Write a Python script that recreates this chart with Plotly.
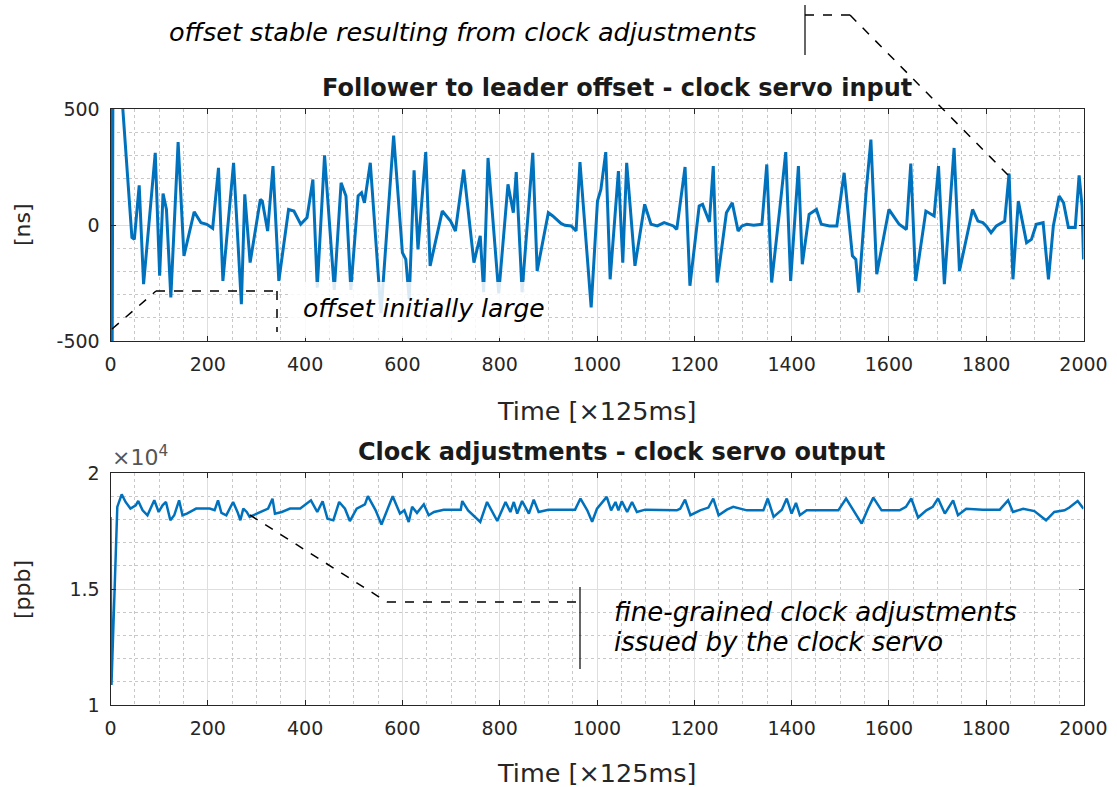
import plotly.graph_objects as go

W, H = 1117, 787

# ---------------- data ----------------
offset_t = [
    0, 3, 6, 25, 44, 49, 59, 68, 92, 101, 108,
    115, 124, 139, 151, 172, 186, 198, 210, 222, 231,
    253, 269, 276, 287, 308, 312, 323, 334, 346, 366,
    377, 391, 404, 416, 425, 440, 460, 474, 484, 494,
    509, 516, 522, 534, 556, 582, 600, 607, 614, 624,
    632, 648, 657, 682, 699, 709, 726, 747, 760, 767,
    776, 798, 817, 828, 834, 846, 868, 877, 900, 909,
    926, 934, 947, 957, 965, 988, 1001, 1008, 1018, 1027,
    1044, 1053, 1061, 1078, 1098, 1111, 1124, 1138, 1157, 1164,
    1181, 1191, 1210, 1217, 1231, 1239, 1247, 1266, 1278, 1290,
    1298, 1308, 1322, 1339, 1349, 1359, 1376, 1388, 1398, 1414,
    1422, 1436, 1451, 1461, 1478, 1493, 1508, 1525, 1532, 1538,
    1553, 1563, 1575, 1600, 1607, 1621, 1636, 1645, 1655, 1676,
    1693, 1702, 1714, 1734, 1745, 1772, 1783, 1793, 1800, 1810,
    1821, 1838, 1847, 1855, 1866, 1883, 1893, 1903, 1917, 1928,
    1938, 1950, 1959, 1969, 1983, 1991, 1997, 2000,
]
offset_ns = [
    1200, -900, 1400, 510, -54, -62, 171, -255, 311, -219, 136,
    67, -312, 357, -133, 57, 10, 3, -14, 246, -241,
    268, -341, 132, -162, 110, 103, -26, 254, -241, 67,
    60, 3, 32, 196, -270, 300, -280, 182, 125, -280,
    125, 139, 96, 268, -380, 385, -119, -148, -320, 236,
    -105, 314, -176, 60, 17, -26, 239, -162, -47, -290,
    289, -295, 175, 53, 228, -290, 311, -198, 53, 39,
    7, -1, -4, -26, 271, -355, 103, 153, 314, -234,
    232, -162, 268, -176, 89, 3, -4, 10, -4, -19,
    250, -262, 82, 89, 13, 254, -248, 53, 96, -26,
    -4, 3, -1, 3, 261, -248, 75, 314, -241, 254,
    -169, 46, 67, 3, -4, -4, 225, -133, -148, -291,
    139, 368, -212, 67, 46, 3, -19, 265, -241, 60,
    39, 254, -255, 332, -198, 67, 17, 10, -4, -33,
    -4, 17, 222, -234, 103, -76, -62, 3, 10, -234,
    -4, 125, 96, -11, -11, 214, 82, -148,
]

adj_t = [
    0, 2, 14, 23, 31, 41, 52, 57, 66, 76,
    90, 99, 107, 114, 123, 131, 141, 148, 157, 176,
    204, 214, 221, 228, 238, 252, 261, 267, 273, 280,
    286, 307, 324, 333, 338, 352, 369, 390, 412, 425,
    436, 446, 458, 470, 482, 492, 506, 523, 529, 545,
    557, 580, 595, 604, 613, 620, 630, 644, 654, 665,
    685, 720, 723, 735, 760, 774, 795, 812, 822, 829,
    836, 846, 860, 870, 880, 900, 955, 966, 980, 990,
    1000, 1020, 1029, 1038, 1044, 1051, 1062, 1072, 1082, 1099,
    1164, 1171, 1181, 1192, 1212, 1229, 1239, 1250, 1267, 1280,
    1308, 1342, 1351, 1363, 1380, 1390, 1400, 1409, 1417, 1431,
    1465, 1496, 1512, 1527, 1544, 1557, 1568, 1585, 1622, 1635,
    1646, 1660, 1677, 1690, 1701, 1715, 1732, 1742, 1759, 1793,
    1828, 1845, 1855, 1876, 1899, 1923, 1940, 1961, 1971, 1988,
    2000,
]
adj_ppb = [
    18100, 10860, 18536, 19082, 18752, 18465, 18608, 18795, 18393, 18178,
    18823, 18321, 18608, 18752, 17962, 18178, 18823, 18178, 18250, 18465,
    18465, 18393, 18823, 18278, 18178, 18752, 18321, 17962, 18465, 18321,
    18106, 18321, 18465, 18895, 18250, 18321, 18465, 18465, 18820, 18320,
    18780, 18030, 17960, 18750, 18460, 17930, 18460, 18650, 19000, 18390,
    17780, 19000, 18250, 18390, 17890, 18540, 18280, 18650, 18180, 18320,
    18420, 18420, 18790, 18390, 17890, 18750, 17930, 18750, 18320, 18750,
    18250, 18790, 18250, 18850, 18320, 18420, 18420, 18900, 18390, 17900,
    18460, 18970, 18390, 18750, 18390, 18780, 18320, 18750, 18320, 18420,
    18390, 18460, 18850, 18180, 18390, 18510, 18900, 18180, 18420, 18540,
    18390, 18390, 18900, 18110, 18420, 18900, 18250, 18710, 18180, 18390,
    18390, 18390, 18900, 18390, 17820, 18460, 18940, 18390, 18390, 18540,
    18900, 18080, 18390, 18540, 18900, 18250, 18820, 18180, 18460, 18420,
    18420, 18820, 18320, 18460, 18360, 17960, 18320, 18390, 18510, 18790,
    18460,
]

x_ticks = [0, 200, 400, 600, 800, 1000, 1200, 1400, 1600, 1800, 2000]
y1_ticks = [-500, 0, 500]
y1_labels = ["-500", "0", "500"]
y2_ticks = [10000, 15000, 20000]
y2_labels = ["1", "1.5", "2"]

title_top = "Follower to leader offset - clock servo input"
title_bot = "Clock adjustments - clock servo output"
x_title = "Time [\u00d7125ms]"

# ---------------- style ----------------
BLUE = "#0072BD"
AX = "#262626"
FONT = "DejaVu Sans"

def px(x, y):
    return x / W, 1 - y / H

XDOM = [110.5 / W, 1083.5 / W]
Y1DOM = [1 - 341 / H, 1 - 109 / H]
Y2DOM = [1 - 705 / H, 1 - 473 / H]

fig = go.Figure()
fig.add_trace(go.Scatter(x=offset_t, y=offset_ns, mode="lines",
                         line=dict(color=BLUE, width=3), xaxis="x", yaxis="y",
                         hoverinfo="skip"))
fig.add_trace(go.Scatter(x=adj_t, y=adj_ppb, mode="lines",
                         line=dict(color=BLUE, width=2.5), xaxis="x2", yaxis="y2",
                         hoverinfo="skip"))

def xaxis(anchor):
    return dict(domain=XDOM, anchor=anchor, range=[0, 2000], tickvals=x_ticks,
                automargin=False,
                showline=True, linecolor=AX, linewidth=1, mirror="ticks",
                ticks="inside", ticklen=5, tickcolor=AX,
                showgrid=True, gridcolor="#dedede", gridwidth=1,
                zeroline=False, ticklabelstandoff=6,
                tickfont=dict(family=FONT, size=19, color=AX),
                minor=dict(dtick=50, tick0=0, showgrid=True, gridcolor="#c8c8c8",
                           griddash="dot", gridwidth=1, ticks=""))

def yaxis(anchor, dom, rng, tv, tt, mdt):
    return dict(domain=dom, anchor=anchor, range=rng, tickvals=tv, ticktext=tt,
                automargin=False,
                showline=True, linecolor=AX, linewidth=1, mirror="ticks",
                ticks="inside", ticklen=5, tickcolor=AX,
                showgrid=True, gridcolor="#dedede", gridwidth=1,
                zeroline=False, ticklabelstandoff=6,
                tickfont=dict(family=FONT, size=19, color=AX),
                minor=dict(dtick=mdt, tick0=rng[0], showgrid=True, gridcolor="#c8c8c8",
                           griddash="dot", gridwidth=1, ticks=""))

shapes = []

def seg(p0, p1, dash="dash", width=1.5):
    a = px(*p0)
    b = px(*p1)
    shapes.append(dict(type="line", xref="paper", yref="paper",
                       x0=a[0], y0=a[1], x1=b[0], y1=b[1],
                       line=dict(color="black", width=width, dash=dash), layer="above"))

# white box behind "offset initially large"
b0 = px(288, 282)
b1 = px(548, 338)
shapes.append(dict(type="rect", xref="paper", yref="paper", x0=b0[0], y0=b0[1],
                   x1=b1[0], y1=b1[1], fillcolor="white", opacity=0.85,
                   line=dict(width=0), layer="above"))

# top callout
seg((805, 5), (805, 55), dash="solid", width=1.2)
seg((805, 15), (850, 15))
seg((850, 15), (1008, 175))
# offset initially large callout
seg((112, 329), (156, 291))
seg((156, 291), (277, 291))
seg((277, 291), (277, 332))
# bottom callout
seg((250, 515), (387, 602))
seg((387, 602), (580, 602))
seg((580, 587), (580, 669), dash="solid", width=1.2)

annotations = []

def text(x, y, s, size, xanchor="center", color="black", angle=0, family=FONT):
    p = px(x, y)
    annotations.append(dict(x=p[0], y=p[1], xref="paper", yref="paper", text=s,
                            showarrow=False, xanchor=xanchor, yanchor="middle",
                            textangle=angle,
                            font=dict(family=family, size=size, color=color)))

text(617, 88, "<b>" + title_top + "</b>", 24, color="#1a1a1a")
text(621, 452, "<b>" + title_bot + "</b>", 24, color="#1a1a1a")
text(597, 411, x_title, 25.5, color=AX)
text(597, 773, x_title, 25.5, color=AX)
text(22, 225, "[ns]", 22, color=AX, angle=-90)
text(22, 590, "[ppb]", 22, color=AX, angle=-90)
text(110, 456, "\u00d710<sup>4</sup>", 22, xanchor="left", color="#555555")
text(462, 32, "<i>offset stable resulting from clock adjustments</i>", 25.5)
text(301, 308, "<i>offset initially large</i>", 25, xanchor="left")
text(612, 612, "<i>fine-grained clock adjustments</i>", 26, xanchor="left")
text(612, 642, "<i>issued by the clock servo</i>", 26, xanchor="left")

fig.update_layout(
    width=W, height=H, margin=dict(l=0, r=0, t=0, b=0, autoexpand=False),
    paper_bgcolor="white", plot_bgcolor="white", showlegend=False,
    xaxis=xaxis("y"),
    yaxis=yaxis("x", Y1DOM, [-500, 500], y1_ticks, y1_labels, 100),
    xaxis2=xaxis("y2"),
    yaxis2=yaxis("x2", Y2DOM, [10000, 20000], y2_ticks, y2_labels, 1000),
    shapes=shapes, annotations=annotations,
)

fig.write_html("out.html", config={"displayModeBar": False},
               post_script="document.body.style.margin='0';document.body.style.overflow='hidden';")
